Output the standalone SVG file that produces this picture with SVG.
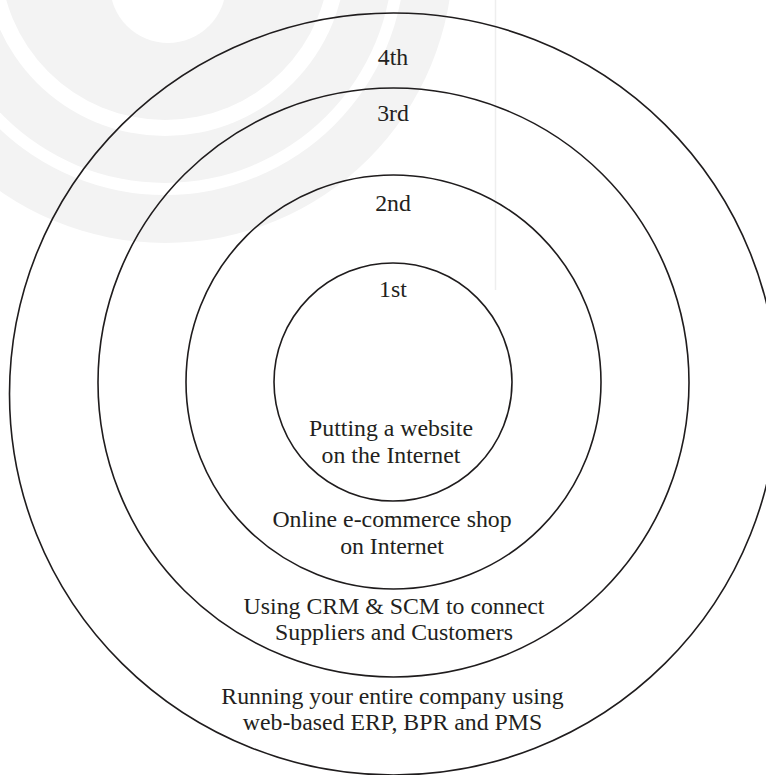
<svg xmlns="http://www.w3.org/2000/svg" width="766" height="775" viewBox="0 0 766 775">
  <style>
    .ring { fill: none; stroke: #1f1c1d; stroke-width: 1.6; }
    .lbl { font-family: "Liberation Serif", "Times New Roman", serif; font-size: 23.8px; fill: #231f20; text-anchor: middle; }
    .wm { fill: #f3f3f3; }
  </style>
  <rect width="766" height="775" fill="#ffffff"/>
  <g id="watermark">
    <circle class="wm" cx="165" cy="-45" r="288"/>
    <circle cx="165" cy="-45" r="240" fill="#ffffff"/>
    <circle class="wm" cx="165" cy="-45" r="228"/>
    <circle cx="165" cy="-45" r="181" fill="#ffffff"/>
    <circle class="wm" cx="165" cy="-45" r="165"/>
    <circle cx="168" cy="-15" r="58" fill="#ffffff"/>
    <line x1="495.5" y1="0" x2="495.5" y2="290" stroke="#eeeeee" stroke-width="1.5"/>
  </g>
  <g id="level4">
    <ellipse class="ring" cx="393.5" cy="394" rx="384" ry="381"/>
    <text class="lbl" x="393" y="65">4th</text>
    <text class="lbl" x="392.5" y="704">Running your entire company using</text>
    <text class="lbl" x="392.5" y="730">web-based ERP, BPR and PMS</text>
  </g>
  <g id="level3">
    <ellipse class="ring" cx="393.5" cy="382.5" rx="295.5" ry="294.5"/>
    <text class="lbl" x="393" y="121">3rd</text>
    <text class="lbl" x="394" y="614">Using CRM &amp; SCM to connect</text>
    <text class="lbl" x="394" y="640">Suppliers and Customers</text>
  </g>
  <g id="level2">
    <ellipse class="ring" cx="393.5" cy="382" rx="207.5" ry="207"/>
    <text class="lbl" x="393" y="211">2nd</text>
    <text class="lbl" x="392" y="527">Online e-commerce shop</text>
    <text class="lbl" x="392" y="554">on Internet</text>
  </g>
  <g id="level1">
    <ellipse class="ring" cx="393" cy="382" rx="119" ry="119"/>
    <text class="lbl" x="393" y="297">1st</text>
    <text class="lbl" x="391" y="436">Putting a website</text>
    <text class="lbl" x="391" y="463">on the Internet</text>
  </g>
  <g id="connectors"/>
</svg>
